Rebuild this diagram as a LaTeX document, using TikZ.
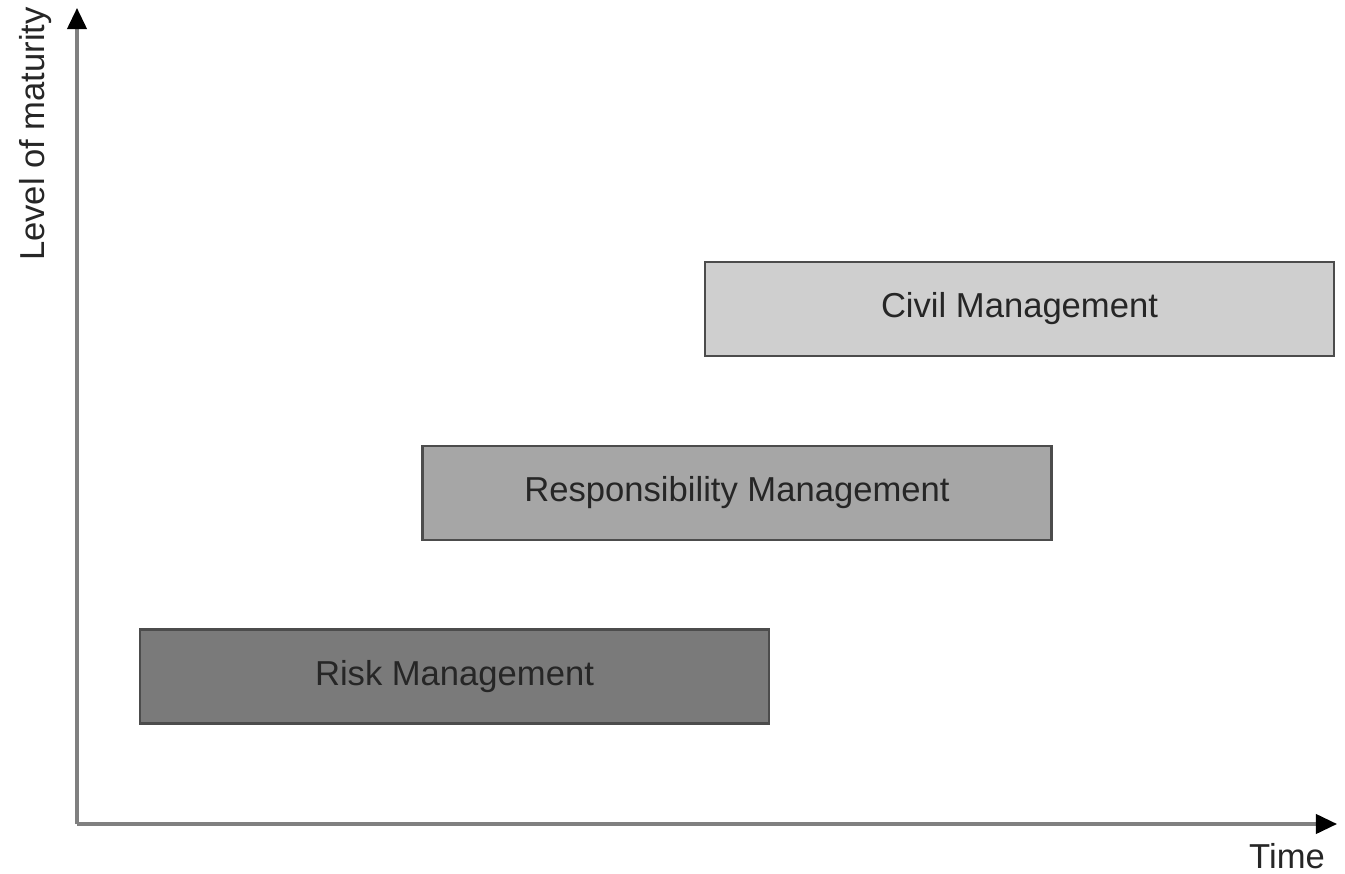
\documentclass[tikz,border=0pt]{standalone}
\usepackage{fontspec}
\setmainfont{Liberation Sans}
\usetikzlibrary{arrows.meta}

\tikzset{
    label/.style={text=black!85, font=\fontsize{19.7}{23}\selectfont},
    phase/.style={label, draw=black!70, line width=1.2pt, minimum height=94*0.02cm, minimum width=629*0.02cm, inner sep=0pt},
    axis/.style={draw=black!50, line width=1.8pt, -{Triangle[length=12pt, width=11pt, black]}}
}

\begin{document}
\begin{tikzpicture}[x=0.02cm, y=-0.02cm]
    \useasboundingbox (0,0) rectangle (1345,874);
    \coordinate (origin) at (77,824);
    \coordinate (ytip) at (77,8);
    \coordinate (xtip) at (1337,824);
    \draw[axis] (origin) -- (ytip);
    \draw[axis] (origin) -- (xtip);

    \node[label, rotate=90, inner sep=1pt] (ylabel) at (36,134) {Level of maturity};
    \node[label, inner sep=1pt] (xlabel) at (1287,856) {Time};

    \node[phase, fill=black!19] (civil) at (1019.5,309) {Civil Management};
    \node[phase, fill=black!35] (resp) at (737,493) {Responsibility Management};
    \node[phase, fill=black!52] (risk) at (454.5,676.5) {Risk Management};
\end{tikzpicture}
\end{document}
